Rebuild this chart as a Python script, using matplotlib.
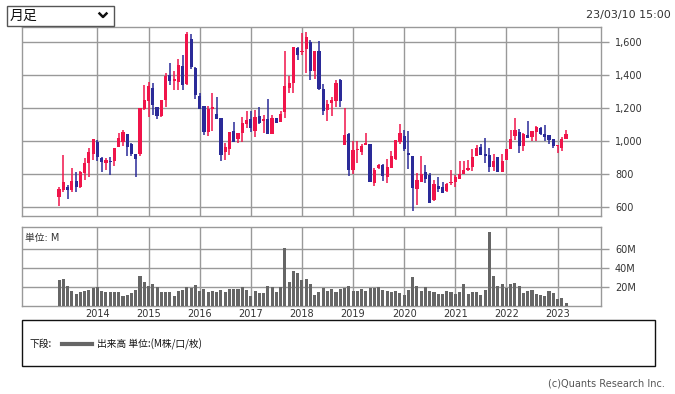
import matplotlib
matplotlib.use("Agg")
import matplotlib.pyplot as plt
from matplotlib.patches import Rectangle
from matplotlib.lines import Line2D
import numpy as np

plt.rcParams['font.family'] = ['DejaVu Sans', 'Noto Sans CJK JP']

# monthly candles, 2013-04 .. 2023-03
start_year, start_month = 2013, 4
opens = [665, 707, 723, 707, 760, 723, 810, 869, 923, 998, 899, 869, 883, 881, 966, 998, 1044, 984, 923, 923,
         1198, 1246, 1325, 1208, 1153, 1250, 1402, 1368, 1360, 1456, 1347, 1618, 1444, 1275, 1214, 1059, 1198, 1166, 1141, 935,
         955, 1063, 1016, 1050, 1105, 1133, 1063, 1153, 1121, 1135, 1044, 1141, 1117, 1180, 1325, 1355, 1566, 1543, 1561, 1600,
         1428, 1547, 1315, 1190, 1232, 1242, 1372, 980, 1046, 826, 947, 935, 978, 984, 750, 840, 857, 786, 840, 891,
         998, 1032, 931, 911, 709, 754, 814, 796, 644, 729, 723, 699, 745, 755, 774, 800, 826, 846, 911, 968,
         925, 915, 846, 905, 816, 887, 954, 1032, 1057, 972, 1038, 1026, 1056, 1081, 1046, 1040, 1012, 970, 960, 1016]
highs = [723, 917, 735, 838, 814, 820, 899, 962, 1012, 1008, 907, 899, 907, 960, 1052, 1069, 1044, 992, 923, 1202,
         1341, 1359, 1355, 1208, 1250, 1416, 1475, 1428, 1499, 1521, 1662, 1650, 1450, 1295, 1214, 1214, 1291, 1271, 1141, 990,
         1057, 1117, 1050, 1149, 1182, 1182, 1190, 1210, 1157, 1259, 1157, 1141, 1182, 1547, 1396, 1574, 1574, 1658, 1662, 1615,
         1547, 1608, 1347, 1250, 1271, 1372, 1376, 1204, 1052, 1000, 1000, 982, 1050, 984, 840, 862, 863, 891, 941, 1010,
         1105, 1067, 1063, 911, 810, 911, 855, 810, 766, 784, 754, 745, 826, 794, 881, 883, 887, 951, 980, 982,
         1020, 960, 923, 905, 921, 954, 1069, 1141, 1075, 1048, 1123, 1063, 1095, 1085, 1099, 1040, 1012, 978, 1026, 1067]
lows = [610, 695, 653, 695, 695, 718, 766, 786, 887, 881, 816, 826, 798, 850, 964, 972, 911, 911, 786, 911,
        1190, 1145, 1158, 1137, 1145, 1210, 1343, 1311, 1311, 1311, 1339, 1438, 1254, 1198, 1038, 1034, 1065, 1133, 883, 887,
        915, 998, 990, 994, 1081, 1059, 1028, 1105, 1052, 1044, 1044, 1113, 1117, 1143, 1295, 1295, 1495, 1521, 1412, 1370,
        1376, 1311, 1158, 1125, 1153, 1210, 1206, 980, 792, 800, 871, 919, 976, 752, 729, 835, 760, 750, 836, 889,
        984, 943, 830, 576, 612, 754, 750, 624, 640, 693, 689, 693, 737, 723, 774, 800, 820, 822, 911, 915,
        871, 814, 820, 816, 816, 887, 954, 1008, 931, 939, 1020, 1000, 1000, 1040, 1002, 982, 960, 931, 943, 1016]
closes = [711, 754, 707, 760, 723, 814, 869, 935, 1012, 905, 875, 887, 875, 960, 1020, 1057, 966, 921, 895, 1202,
          1250, 1335, 1218, 1153, 1250, 1396, 1368, 1380, 1463, 1343, 1650, 1450, 1283, 1198, 1059, 1198, 1210, 1137, 919, 966,
          1057, 998, 1050, 1111, 1129, 1079, 1149, 1113, 1137, 1044, 1141, 1113, 1166, 1335, 1355, 1574, 1525, 1549, 1630, 1428,
          1547, 1319, 1186, 1226, 1250, 1353, 1246, 1038, 826, 947, 951, 972, 992, 754, 826, 857, 790, 842, 911, 1008,
          1050, 956, 919, 719, 768, 802, 774, 628, 741, 713, 689, 739, 755, 784, 800, 826, 838, 907, 960, 915,
          913, 846, 881, 816, 881, 954, 1014, 1069, 972, 1044, 1020, 1063, 1087, 1046, 1028, 1008, 972, 976, 1016, 1046]
# volume, millions
volume = [27.9, 28.9, 21.4, 15.4, 12.9, 14.3, 15.4, 16.4, 18.6, 19.6, 15.4, 14.3, 14.3, 14.5, 15, 10.7, 12.1, 13.2, 17.1, 32.1,
          25.7, 21.4, 23.6, 19.6, 14.3, 14.3, 14.3, 10.7, 15.4, 17.1, 19.6, 18.6, 22.5, 16, 18.2, 14.3, 15.4, 14.3, 16.4, 15,
          18.2, 17.5, 17.5, 19.6, 16.4, 10.7, 15.4, 13.6, 13.6, 21.4, 20, 15, 19.6, 61, 25.3, 36.9, 34.7, 27, 28.4, 23.2,
          11.2, 14.4, 19, 16.1, 17.5, 14.7, 17.5, 19.3, 20.7, 15.4, 15.4, 17.5, 15.4, 19, 19, 19.7, 16.5, 15.4, 15, 15.8,
          13.7, 11.6, 16.8, 30.5, 21, 15.8, 19.7, 15.8, 15, 12.6, 12.6, 15.4, 14.7, 13, 14.7, 23.2, 12.6, 14.7, 14.7, 11.6,
          16.8, 78, 31.6, 21, 23.2, 19, 23.2, 24.2, 21, 13.7, 16.1, 16.8, 12.6, 11.2, 10.5, 15.4, 13.7, 7.7, 8.8, 3.2]
years = list(range(2014, 2024))
price_ticks = [600, 800, 1000, 1200, 1400, 1600]
vol_ticks = [20, 40, 60]

W, H = 675, 394
def fx(x):
    return x / W
def fy(y):
    return 1 - y / H

grid_c = '#999999'
red = '#f0144a'
blue = '#2a2a98'

fig = plt.figure(figsize=(6.75, 3.94), dpi=100)
ax = fig.add_axes([fx(22), fy(216), fx(601) - fx(22), fy(26.7) - fy(216)])
axv = fig.add_axes([fx(22), fy(306), fx(601) - fx(22), fy(227.3) - fy(306)])

n = len(opens)
xs = np.arange(n)
jan_pos = [12 * (y - start_year) + 1 - start_month for y in years]

for k in range(n):
    o, h, l, c = opens[k], highs[k], lows[k], closes[k]
    col = red if c >= o else blue
    ax.vlines(k, l, h, color=col, lw=1.1, zorder=3)
    ax.bar(k, max(abs(c - o), 5), bottom=min(o, c), width=0.75, color=col, lw=0, zorder=4)

axv.bar(xs, volume, width=0.72, color='#666666', lw=0, zorder=3)

for a in (ax, axv):
    a.set_xlim(-8.7, 127.2)
    a.set_xticks(jan_pos)
    a.grid(True, color=grid_c, lw=1, zorder=0)
    for s in a.spines.values():
        s.set_color(grid_c)
        s.set_linewidth(1)
    a.yaxis.tick_right()
    a.tick_params(axis='y', colors=grid_c, length=6, width=1, labelcolor='#333333', labelsize=7, pad=4)

ax.set_ylim(547, 1695)
ax.set_yticks(price_ticks)
ax.set_yticklabels([f'{v:,}' for v in price_ticks])
ax.tick_params(axis='x', length=0, labelbottom=False)

axv.set_ylim(0, 83)
axv.set_yticks(vol_ticks)
axv.set_yticklabels([f'{v}M' for v in vol_ticks])
axv.set_xticklabels([str(y) for y in years])
axv.tick_params(axis='x', length=0, labelsize=7, labelcolor='#333333', pad=2)
axv.text(0.005, 0.93, '単位: M', transform=axv.transAxes, fontsize=7, color='#333333', va='top', ha='left')

# dropdown box
fig.add_artist(Rectangle((fx(7), fy(25.5)), fx(114) - fx(7), fy(6) - fy(25.5), fill=False, ec='#555555', lw=1))
fig.text(fx(10), fy(15.5), '月足', fontsize=10, va='center', ha='left', color='#111111',
         family=['Noto Sans CJK JP', 'DejaVu Sans'])
fig.add_artist(Line2D([fx(99.5), fx(103), fx(106.5)], [fy(13.5), fy(17), fy(13.5)], color='#111111', lw=1.8))
fig.text(fx(671), fy(15), '23/03/10 15:00', fontsize=8, va='center', ha='right', color='#333333')

# legend box
fig.add_artist(Rectangle((fx(22), fy(366)), fx(655) - fx(22), fy(320) - fy(366), fill=False, ec='#111111', lw=1))
fig.text(fx(30), fy(344), '下段:', fontsize=7, va='center', ha='left', color='#111111',
         family=['Noto Sans CJK JP', 'DejaVu Sans'])
fig.add_artist(Line2D([fx(62), fx(92)], [fy(344), fy(344)], color='#666666', lw=3))
fig.text(fx(97), fy(344), '出来高 単位:(M株/口/枚)', fontsize=7, va='center', ha='left', color='#111111',
         family=['Noto Sans CJK JP', 'DejaVu Sans'])
fig.text(fx(665), fy(383), '(c)Quants Research Inc.', fontsize=7, va='center', ha='right', color='#555555')

fig.savefig('out.png', dpi=100)
